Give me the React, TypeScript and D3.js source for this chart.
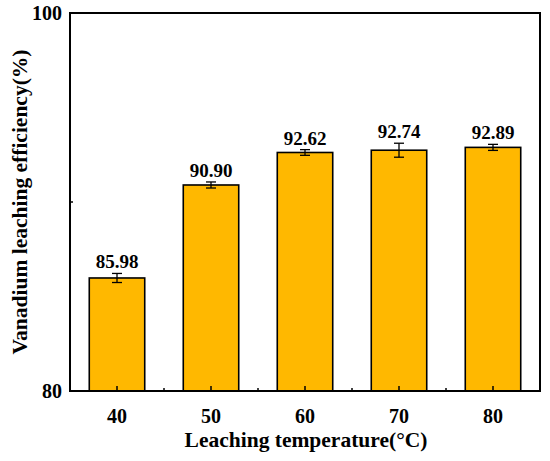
import React from "react";
import * as d3 from "d3";

const categories = ["40", "50", "60", "70", "80"];
const values = [85.98, 90.9, 92.62, 92.74, 92.89];
const errors = [0.24, 0.16, 0.15, 0.37, 0.16];
const labels = ["85.98", "90.90", "92.62", "92.74", "92.89"];
const yTicks = [80, 100];
const yMinor = [90];

const W = 550, H = 461;
const M = { left: 70, right: 10, top: 13, bottom: 70 };

export default function App() {
  const x = d3.scaleBand().domain(categories).range([M.left, W - M.right]).paddingInner(0.41).paddingOuter(0.205);
  const y = d3.scaleLinear().domain([80, 100]).range([H - M.bottom, M.top]);
  const step = x.step();
  const font = "'Liberation Serif', 'Times New Roman', serif";
  const y0 = y(80);
  return (
    <svg width={W} height={H} style={{ position: "absolute", left: 0, top: 0 }} fontFamily={font} fontWeight="bold">
      {categories.map((c, i) => {
        const bx = x(c)!;
        const cx = bx + x.bandwidth() / 2;
        const top = y(values[i]);
        const eT = y(values[i] + errors[i]);
        const eB = y(values[i] - errors[i]);
        return (
          <g key={c}>
            <rect x={bx} y={top} width={x.bandwidth()} height={y0 - top} fill="#FFB800" stroke="#000" strokeWidth={1.6} />
            <line x1={cx} x2={cx} y1={eT} y2={eB} stroke="#000" strokeWidth={1.3} />
            <line x1={cx - 5} x2={cx + 5} y1={eT} y2={eT} stroke="#000" strokeWidth={1.3} />
            <line x1={cx - 5} x2={cx + 5} y1={eB} y2={eB} stroke="#000" strokeWidth={1.3} />
            <text x={cx} y={eT - 5} textAnchor="middle" fontSize={19}>{labels[i]}</text>
          </g>
        );
      })}
      <rect x={M.left} y={M.top} width={W - M.right - M.left} height={y0 - M.top} fill="none" stroke="#000" strokeWidth={2} />
      {categories.map((c, i) => {
        const cx = x(c)! + x.bandwidth() / 2;
        return (
          <g key={"t" + c}>
            <line x1={cx} x2={cx} y1={y0} y2={y0 - 5} stroke="#000" strokeWidth={1.5} />
            {i < categories.length - 1 && (
              <line x1={cx + step / 2} x2={cx + step / 2} y1={y0} y2={y0 - 3} stroke="#000" strokeWidth={1.5} />
            )}
            <text x={cx} y={423} textAnchor="middle" fontSize={20}>{c}</text>
          </g>
        );
      })}
      {yTicks.map((t) => (
        <text key={t} x={M.left - 8} y={y(t) + 7} textAnchor="end" fontSize={20}>{t}</text>
      ))}
      {yMinor.map((t) => (
        <line key={t} x1={M.left} x2={M.left + 3} y1={y(t)} y2={y(t)} stroke="#000" strokeWidth={1.5} />
      ))}
      <text x={(M.left + W - M.right) / 2 + 1} y={447} textAnchor="middle" fontSize={21.5}>Leaching temperature(°C)</text>
      <text transform={`translate(27,${(M.top + y0) / 2}) rotate(-90)`} textAnchor="middle" fontSize={21.5}>Vanadium leaching efficiency(%)</text>
    </svg>
  );
}
